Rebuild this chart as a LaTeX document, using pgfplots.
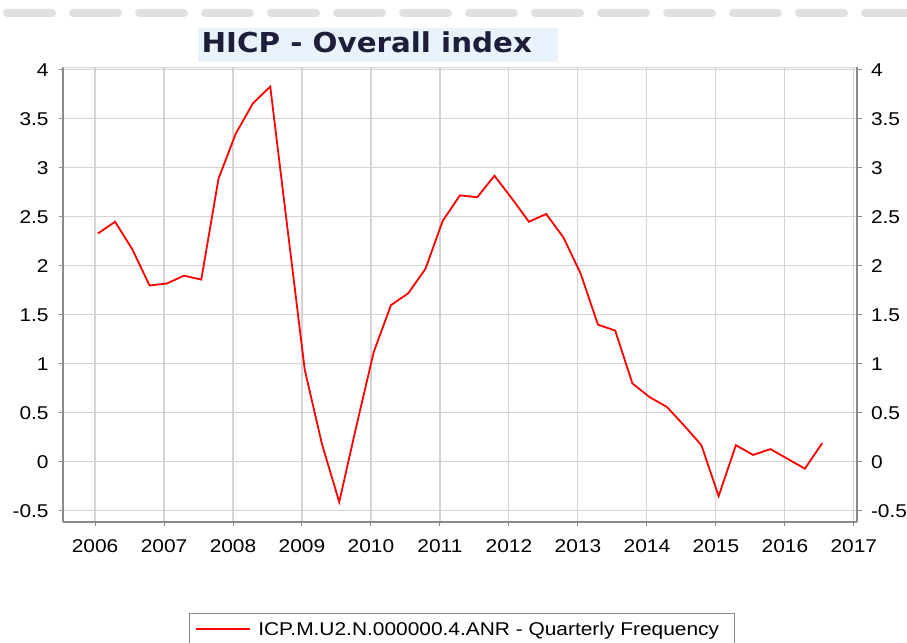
\documentclass[border=0pt]{standalone}
\usepackage{fontspec}
\usepackage{pgfplots}
\pgfplotsset{compat=1.18}
\setmainfont[FakeStretch=1.13]{Liberation Sans}
\newfontfamily\titlefamily[FakeStretch=1.07]{DejaVu Sans}
\newcommand\tickfont{\fontsize{18.5bp}{22bp}\selectfont}
\definecolor{gridgray}{HTML}{D3D3D3}
\definecolor{axgray}{HTML}{8A8A8A}
\definecolor{titlebg}{HTML}{EAF3FC}
\definecolor{titlefg}{HTML}{1E1E3A}
\definecolor{tabgray}{HTML}{E0E0E0}
\definecolor{legendgray}{HTML}{8C8C8C}

\pgfplotstableread{
x y
2006.04 2.33
2006.29 2.45
2006.54 2.17
2006.79 1.80
2007.04 1.82
2007.29 1.90
2007.54 1.86
2007.79 2.89
2008.04 3.35
2008.29 3.66
2008.54 3.83
2008.79 2.38
2009.04 0.94
2009.29 0.18
2009.54 -0.41
2009.79 0.37
2010.04 1.12
2010.29 1.60
2010.54 1.72
2010.79 1.97
2011.04 2.46
2011.29 2.72
2011.54 2.70
2011.79 2.92
2012.04 2.69
2012.29 2.45
2012.54 2.53
2012.79 2.29
2013.04 1.92
2013.29 1.40
2013.54 1.34
2013.79 0.80
2014.04 0.66
2014.29 0.56
2014.54 0.37
2014.79 0.17
2015.04 -0.35
2015.29 0.17
2015.54 0.07
2015.79 0.13
2016.04 0.03
2016.29 -0.07
2016.54 0.19
}\hicp

\begin{document}
\begin{tikzpicture}[x=1bp,y=1bp]
\useasboundingbox (0,0) rectangle (907,643);
\fill[white] (0,0) rectangle (907,643);
% top tabs (page decoration)
\foreach \i in {0,...,13}{
  \fill[tabgray, rounded corners=4bp] ({3+66*\i},626) rectangle ({56+66*\i},634);
}
% title
\fill[titlebg] (198.3,581.3) rectangle (558.3,614.7);
\node[anchor=base west, inner sep=0pt, text=titlefg, font=\titlefamily\bfseries\fontsize{27.4bp}{30bp}\selectfont] at (201.5,590.3) {HICP - Overall index};

\begin{axis}[
  at={(63.3bp,121.3bp)}, anchor=south west,
  scale only axis, width=794bp, height=454.2bp,
  xmin=2005.54, xmax=2017.05, ymin=-0.611, ymax=4.025,
  xtick={2006,2007,2008,2009,2010,2011,2012,2013,2014,2015,2016,2017},
  xticklabels={2006,2007,2008,2009,2010,2011,2012,2013,2014,2015,2016,2017},
  ytick={-0.5,0,0.5,1,1.5,2,2.5,3,3.5,4},
  yticklabels={-0.5,0,0.5,1,1.5,2,2.5,3,3.5,4},
  grid=major, major grid style={draw=gridgray, line width=1.1bp},
  axis x line*=bottom, axis y line*=left,
  axis line style={draw=axgray, line width=1.8bp, -},
  tick align=outside, major tick length=4.5bp,
  tick style={draw=axgray, line width=1bp},
  xticklabel style={font=\tickfont, inner sep=0pt, anchor=north, yshift=-13bp},
  yticklabel style={font=\tickfont, inner sep=0pt, anchor=east, xshift=-10bp},
  legend style={at={(0.1583,-0.2017)}, anchor=north west, draw=legendgray,
    line width=1bp, font=\tickfont, inner xsep=6bp, inner ysep=6bp,
    cells={anchor=west}},
  legend image code/.code={\draw[red, line width=1.8bp] (0bp,0bp) -- (54bp,0bp); \path (59bp,0bp);},
  clip=false,
]
\draw[gridgray, line width=1.1bp] (rel axis cs:0,1) -- (rel axis cs:1,1);
\addplot[color=red, line width=1.8bp, no marks] table[x=x,y=y]{\hicp};
\addlegendentry{ICP.M.U2.N.000000.4.ANR - Quarterly Frequency\hspace*{7bp}}
\end{axis}

\begin{axis}[
  at={(63.3bp,121.3bp)}, anchor=south west,
  scale only axis, width=794bp, height=454.2bp,
  xmin=2005.54, xmax=2017.05, ymin=-0.611, ymax=4.025,
  hide x axis, axis y line*=right,
  axis line style={draw=axgray, line width=1.8bp, -},
  ytick={-0.5,0,0.5,1,1.5,2,2.5,3,3.5,4},
  yticklabels={-0.5,0,0.5,1,1.5,2,2.5,3,3.5,4},
  tick align=outside, major tick length=4.5bp,
  tick style={draw=axgray, line width=1bp},
  yticklabel style={font=\tickfont, inner sep=0pt, anchor=west, xshift=9bp},
]
\end{axis}
\end{tikzpicture}
\end{document}
